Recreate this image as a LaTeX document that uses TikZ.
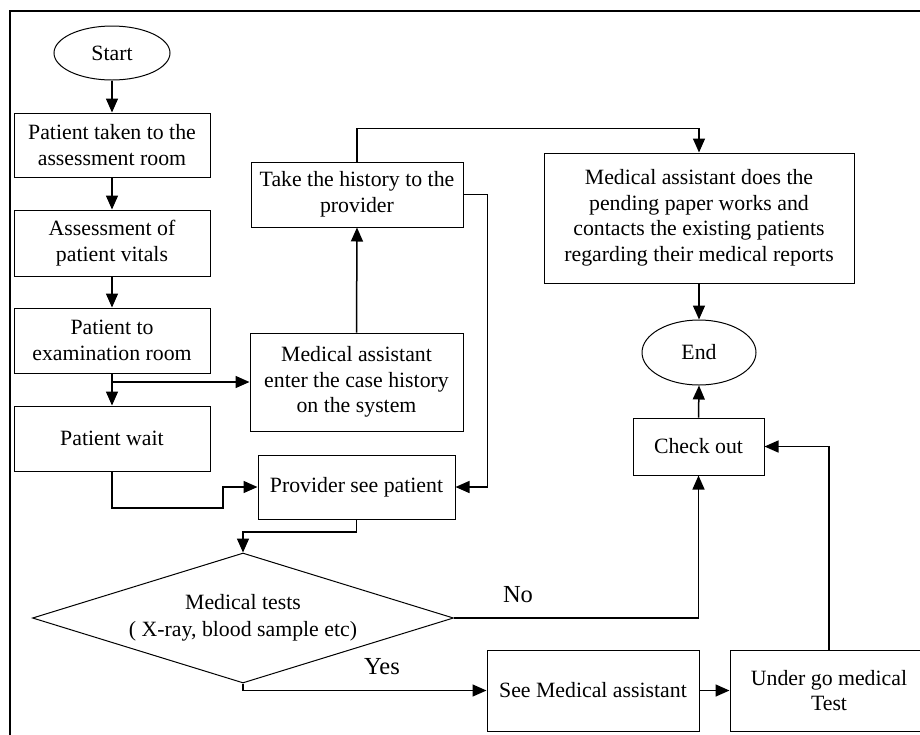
\documentclass[tikz,border=0pt]{standalone}
\usepackage{fontspec}
\setmainfont{Liberation Serif}
\usetikzlibrary{shapes.geometric,arrows.meta}
\tikzset{
  box/.style={draw, line width=1pt, rectangle, inner sep=0pt, align=center,
    font=\fontsize{21.8}{25.5}\selectfont},
  term/.style={draw, line width=1pt, ellipse, inner sep=0pt,
    font=\fontsize{21.8}{25.5}\selectfont},
  arr/.style={line width=1.5pt, -{Triangle[length=14pt,width=12pt]}},
  lbl/.style={font=\fontsize{24.5}{28}\selectfont, inner sep=0pt},
}
\begin{document}
\begin{tikzpicture}[x=1pt,y=-1pt]
\useasboundingbox (0,0) rectangle (920,734);
\clip (0,0) rectangle (920,734);
% frame
\draw[line width=2.2pt] (10,736) -- (10,11) -- (922,11);
% nodes
\node[term, minimum width=116pt, minimum height=54pt] (start) at (112,53) {Start};
\node[box, minimum width=196pt, minimum height=64pt] (b1) at (112,145) {Patient taken to the\\assessment room};
\node[box, minimum width=196pt, minimum height=66pt] (b2) at (112,243) {Assessment of\\patient vitals};
\node[box, minimum width=196pt, minimum height=65pt] (b3) at (112,340.5) {Patient to\\examination room};
\node[box, minimum width=196pt, minimum height=65pt] (b4) at (112,438.5) {Patient wait};
\node[box, minimum width=213pt, minimum height=98pt] (ma) at (356.5,382) {Medical assistant\\enter the case history\\on the system};
\node[box, minimum width=212pt, minimum height=65pt] (th) at (357,194.5) {Take the history to the\\provider};
\node[box, minimum width=197pt, minimum height=64pt] (prov) at (356.5,487) {Provider see patient};
\node[box, minimum width=310pt, minimum height=130pt] (rep) at (699,218) {Medical assistant does the\\pending paper works and\\contacts the existing patients\\regarding their medical reports};
\node[term, minimum width=114pt, minimum height=65pt] (end) at (699,352.5) {End};
\node[box, minimum width=131pt, minimum height=57pt] (co) at (698.5,446.5) {Check out};
\node[draw, line width=1pt, diamond, aspect=3.24, inner sep=0pt, minimum width=421pt, minimum height=130pt] (dia) at (243,618) {};
\node[align=center, inner sep=0pt, font=\fontsize{21.8}{27}\selectfont] (diat) at (dia.center) {Medical tests\\( X-ray, blood sample etc)};
\node[box, minimum width=212pt, minimum height=81pt] (see) at (593,690.5) {See Medical assistant};
\node[box, minimum width=198pt, minimum height=81pt] (ug) at (829,690.5) {Under go medical\\Test};
\node[lbl] (no) at (518,595) {No};
\node[lbl] (yes) at (382,667) {Yes};
% helper coordinates
\coordinate (j1) at (112,382);
\coordinate (k1) at (223,508);
\coordinate (k2) at (243,532);
% connectors
\draw[arr] (start.south) -- (b1.north);
\draw[arr] (b1.south) -- (b2.north);
\draw[arr] (b2.south) -- (b3.north);
\draw[arr] (b3.south) -- (b4.north);
\draw[arr] (j1) -- (ma.west);
\draw[arr] (ma.north) -- (th.south);
\draw[arr] (th.north) -- ++(0,-33) -| (rep.north);
\draw[arr] (th.east) -- ++(24,0) |- (prov.east);
\draw[arr] (b4.south) |- (k1) |- (prov.west);
\draw[arr] (prov.south) |- (k2) -- (dia.north);
\draw[arr] (dia.east) -| (co.south);
\draw[arr] (dia.south) |- (see.west);
\draw[arr] (see.east) -- (ug.west);
\draw[arr] (ug.north) |- (co.east);
\draw[arr] (co.north) -- (end.south);
\draw[arr] (rep.south) -- (end.north);
\end{tikzpicture}
\end{document}
